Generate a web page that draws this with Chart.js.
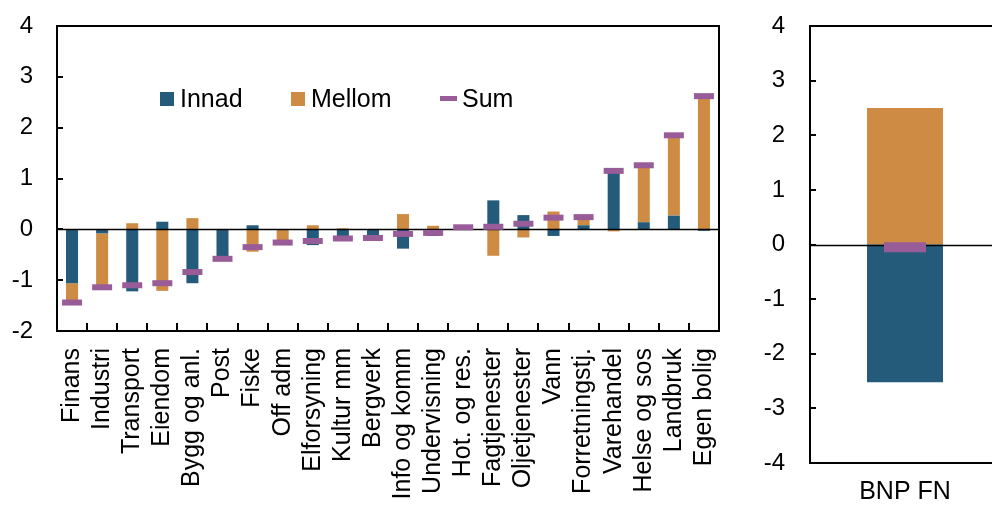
<!DOCTYPE html>
<html>
<head>
<meta charset="utf-8">
<script src="https://cdn.jsdelivr.net/npm/chart.js@4.4.1/dist/chart.umd.min.js"></script>
<style>
  html, body { margin: 0; padding: 0; background: #fff; overflow: hidden; width: 992px; height: 506px; }
  canvas { position: absolute; top: 0; }
  #sectors { left: 0; }
  #total   { left: 740px; }
</style>
</head>
<body>
<canvas id="sectors" width="740" height="506"></canvas>
<canvas id="total" width="270" height="506"></canvas>
<script>
// Contributions by industry (percentage points)
const categories = ['Finans', 'Industri', 'Transport', 'Eiendom', 'Bygg og anl.', 'Post', 'Fiske',
  'Off adm', 'Elforsyning', 'Kultur mm', 'Bergverk', 'Info og komm', 'Undervisning', 'Hot. og res.',
  'Fagtjenester', 'Oljetjenester', 'Vann', 'Forretningstj.', 'Varehandel', 'Helse og sos',
  'Landbruk', 'Egen bolig'];
const innad  = [-1.06, -0.08, -1.22,  0.15, -1.06, -0.56,  0.08, -0.01, -0.31, -0.20, -0.17,
                -0.38, -0.13,  0.02,  0.57,  0.28, -0.13,  0.08,  1.19,  0.14,  0.27, -0.03];
const mellom = [-0.38, -1.06,  0.12, -1.21,  0.22, -0.02, -0.44, -0.25,  0.08,  0.02,  0.00,
                 0.30,  0.07,  0.02, -0.52, -0.16,  0.35,  0.16, -0.04,  1.12,  1.58,  2.65];
const sum    = [-1.44, -1.14, -1.10, -1.06, -0.84, -0.58, -0.35, -0.26, -0.23, -0.18, -0.17,
                -0.09, -0.07,  0.04,  0.05,  0.11,  0.23,  0.24,  1.15,  1.26,  1.85,  2.62];

// Aggregate
const totalCategories = ['BNP FN'];
const totalInnad  = [-2.52];
const totalMellom = [2.50];
const totalSum    = [-0.05];

const leftTicks  = { min: -2, max: 4, step: 1 };
const rightTicks = { min: -4, max: 4, step: 1 };

const BLUE = '#245b7b', ORANGE = '#cd8b43', PURPLE = '#985c98';

Chart.defaults.font.family = "'Liberation Sans', Arial, sans-serif";
Chart.defaults.color = '#000';
Chart.defaults.animation = false;

// Box, inward tick marks and the zero line
const framePlugin = {
  id: 'frame',
  beforeDatasetDraw(chart, args) {
    if (args.meta.type !== 'line') return;
    const { ctx, chartArea: a, scales: { y } } = chart;
    const y0 = Math.round(y.getPixelForValue(0)) + 0.5;
    ctx.save();
    ctx.strokeStyle = '#000';
    ctx.lineWidth = 1.5;
    ctx.beginPath();
    ctx.moveTo(a.left, y0);
    ctx.lineTo(a.right, y0);
    ctx.stroke();
    ctx.restore();
  },
  afterDraw(chart, args, opts) {
    const { ctx, chartArea: a, scales: { x, y } } = chart;
    ctx.save();
    ctx.strokeStyle = '#000';
    ctx.lineWidth = 2;
    ctx.strokeRect(a.left, a.top, a.right - a.left, a.bottom - a.top);
    ctx.beginPath();
    y.ticks.forEach(t => {
      const py = Math.round(y.getPixelForValue(t.value));
      ctx.moveTo(a.left, py);
      ctx.lineTo(a.left + 6, py);
    });
    if (opts.xTicks) {
      const n = x.ticks.length;
      const w = (a.right - a.left) / n;
      for (let i = 1; i < n; i++) {
        const px = Math.round(a.left + i * w);
        ctx.moveTo(px, a.bottom);
        ctx.lineTo(px, a.bottom - 8);
      }
    }
    ctx.stroke();
    ctx.restore();
  }
};

// Legend placed inside the plot area
const innerLegend = {
  id: 'innerLegend',
  afterDraw(chart) {
    const { ctx, chartArea: a } = chart;
    const ds = chart.data.datasets;
    const cy = 99;
    ctx.save();
    ctx.font = "25px 'Liberation Sans', Arial, sans-serif";
    ctx.textBaseline = 'middle';
    const items = [
      { x: a.left + 103, ds: ds[0], kind: 'box' },
      { x: a.left + 234, ds: ds[1], kind: 'box' },
      { x: a.left + 383, ds: ds[2], kind: 'line' }
    ];
    items.forEach(it => {
      if (it.kind === 'box') {
        ctx.fillStyle = it.ds.backgroundColor;
        ctx.fillRect(it.x, cy - 7, 14, 14);
        ctx.fillStyle = '#000';
        ctx.fillText(it.ds.label, it.x + 20, cy + 1);
      } else {
        ctx.fillStyle = it.ds.pointBorderColor;
        ctx.fillRect(it.x, cy - 3, 17, 5);
        ctx.fillStyle = '#000';
        ctx.fillText(it.ds.label, it.x + 22, cy + 1);
      }
    });
    ctx.restore();
  }
};

function makeOptions(ticks, yWidth, xHeight, yPad, padRight, showXTicks) {
  return {
    responsive: false,
    maintainAspectRatio: false,
    devicePixelRatio: 1,
    layout: { autoPadding: false, padding: { top: 26, right: padRight, left: 0, bottom: 0 } },
    plugins: { legend: { display: false }, tooltip: { enabled: false }, frame: { xTicks: showXTicks } },
    scales: {
      x: {
        stacked: true,
        grid: { display: false, drawTicks: false },
        border: { display: false },
        ticks: { autoSkip: false, maxRotation: 90, minRotation: showXTicks ? 90 : 0, padding: showXTicks ? 17 : 14,
                 font: { size: 25 }, color: '#000' },
        afterFit(s) { s.height = xHeight; s.paddingLeft = 0; s.paddingRight = 0; }
      },
      y: {
        stacked: true,
        min: ticks.min, max: ticks.max,
        grid: { display: false, drawTicks: false },
        border: { display: false },
        ticks: { stepSize: ticks.step, padding: yPad, font: { size: 24 }, color: '#000' },
        afterFit(s) { s.width = yWidth; s.paddingTop = 0; s.paddingBottom = 0; }
      }
    }
  };
}

function datasets(a, b, s, markerHalf, markerThick) {
  return [
    { type: 'bar', label: 'Innad', data: a, backgroundColor: BLUE, stack: 'parts', order: 2,
      barPercentage: 0.8, categoryPercentage: 0.5 },
    { type: 'bar', label: 'Mellom', data: b, backgroundColor: ORANGE, stack: 'parts', order: 2,
      barPercentage: 0.8, categoryPercentage: 0.5 },
    { type: 'line', label: 'Sum', data: s, stack: 'total', order: 1, showLine: false,
      pointStyle: 'line', pointRadius: markerHalf, pointHoverRadius: markerHalf,
      pointBorderWidth: markerThick, pointHoverBorderWidth: markerThick,
      pointBorderColor: PURPLE, pointBackgroundColor: PURPLE, borderColor: PURPLE }
  ];
}

new Chart(document.getElementById('sectors'), {
  data: { labels: categories, datasets: datasets(innad, mellom, sum, 10, 6) },
  options: makeOptions(leftTicks, 57, 175, 24, 21, true),
  plugins: [framePlugin, innerLegend]
});

new Chart(document.getElementById('total'), {
  data: { labels: totalCategories, datasets: datasets(totalInnad, totalMellom, totalSum, 21, 10) },
  options: makeOptions(rightTicks, 70, 43, 25, 10, false),
  plugins: [framePlugin]
});
</script>
</body>
</html>
